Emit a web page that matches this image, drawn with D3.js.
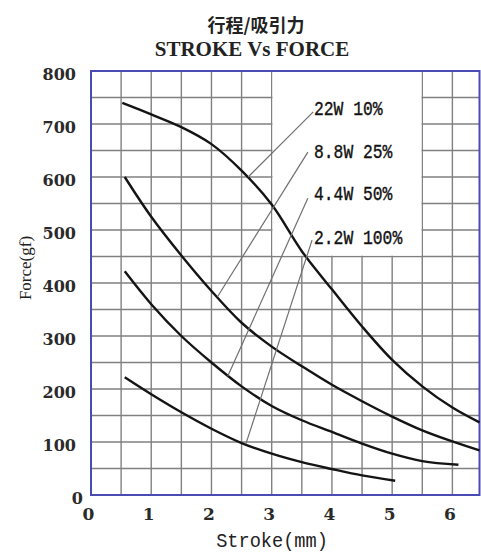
<!DOCTYPE html>
<html>
<head>
<meta charset="utf-8">
<script src="https://cdn.jsdelivr.net/npm/d3@7"></script>
<style>
body { margin: 0; background: #fff; }
svg { display: block; }
</style>
</head>
<body>
<div id="chart"></div>
<script>
// series data (stroke in mm, force in gf)
var stroke22 = [0.52, 1, 1.5, 2, 2.5, 3, 3.5, 4, 4.5, 5, 5.5, 6, 6.45];
var force22  = [740, 718, 694, 662, 612, 548, 460, 388, 318, 255, 205, 165, 137];

var stroke88 = [0.56, 1, 1.5, 2, 2.5, 3, 3.5, 4, 4.5, 5, 5.5, 6, 6.45];
var force88  = [600, 525, 452, 385, 325, 280, 243, 208, 177, 148, 122, 101, 84];

var stroke44 = [0.56, 1, 1.5, 2, 2.5, 3, 3.5, 4, 4.5, 5, 5.5, 6.1];
var force44  = [422, 360, 300, 250, 205, 168, 141, 119, 97, 78, 64, 57];

var stroke22w = [0.56, 1, 1.5, 2, 2.5, 3, 3.5, 4, 4.5, 5.05];
var force22w  = [222, 190, 156, 125, 98, 78, 62, 49, 37, 27];

var labels = ["22W 10%", "8.8W 25%", "4.4W 50%", "2.2W 100%"];
// leader lines: label end -> point on curve
var leadFromX = [3.69, 3.60, 3.60, 3.67];
var leadFromY = [723, 647, 560, 481];
var leadToX = [2.61, 2.10, 2.27, 2.57];
var leadToY = [600, 374, 224, 96];
var labelY = [717, 636, 557, 474];

var xTicks = [0, 1, 2, 3, 4, 5, 6];
var yTicks = [0, 100, 200, 300, 400, 500, 600, 700, 800];

var width = 481, height = 552;
var mLeft = 91, mTop = 71, mRight = 479.5, mBottom = 495;

var svg = d3.select("#chart").append("svg")
  .attr("width", width)
  .attr("height", height);

var x = d3.scaleLinear().domain([0, 6.45]).range([mLeft, mRight]);
var y = d3.scaleLinear().domain([0, 800]).range([mBottom, mTop]);

// grid
var g = svg.append("g");
g.selectAll(".vg").data(d3.range(0.5, 6.45, 0.5)).enter().append("line")
  .attr("x1", function(d) { return x(d); })
  .attr("x2", function(d) { return x(d); })
  .attr("y1", y(0)).attr("y2", y(800))
  .attr("stroke", "#808080").attr("stroke-width", 1.4);
g.selectAll(".hg").data(d3.range(50, 800, 50)).enter().append("line")
  .attr("y1", function(d) { return y(d); })
  .attr("y2", function(d) { return y(d); })
  .attr("x1", x(0)).attr("x2", x(6.45))
  .attr("stroke", "#808080").attr("stroke-width", 1.4);

// blank area for the labels
g.append("rect")
  .attr("x", x(3) + 0.8)
  .attr("y", y(800))
  .attr("width", x(5.5) - x(3) - 1.6)
  .attr("height", y(450) - y(800) - 0.8)
  .attr("fill", "#fff");

// frame
svg.append("rect")
  .attr("x", mLeft).attr("y", mTop)
  .attr("width", mRight - mLeft).attr("height", mBottom - mTop)
  .attr("fill", "none")
  .attr("stroke", "#4a4ab4")
  .attr("stroke-width", 2);

// curves
var line = d3.line()
  .x(function(d) { return x(d[0]); })
  .y(function(d) { return y(d[1]); })
  .curve(d3.curveCatmullRom.alpha(0.5));

var series = [
  d3.zip(stroke22, force22),
  d3.zip(stroke88, force88),
  d3.zip(stroke44, force44),
  d3.zip(stroke22w, force22w)
];

svg.selectAll(".curve").data(series).enter().append("path")
  .attr("d", line)
  .attr("fill", "none")
  .attr("stroke", "#141414")
  .attr("stroke-width", 2.4);

// leader lines
svg.selectAll(".lead").data(labels).enter().append("line")
  .attr("x1", function(d, i) { return x(leadFromX[i]); })
  .attr("y1", function(d, i) { return y(leadFromY[i]); })
  .attr("x2", function(d, i) { return x(leadToX[i]); })
  .attr("y2", function(d, i) { return y(leadToY[i]); })
  .attr("stroke", "#707070")
  .attr("stroke-width", 1.2);

svg.selectAll(".lab").data(labels).enter().append("text")
  .attr("transform", function(d, i) { return "translate(" + 314 + "," + y(labelY[i]) + ") scale(0.86,1.1)"; })
  .attr("font-family", "Liberation Mono")
  .attr("font-size", 19)
  .attr("fill", "#111")
  .attr("stroke", "#111")
  .attr("stroke-width", 0.35)
  .text(function(d) { return d; });

// axes
var yAxis = svg.append("g")
  .attr("transform", "translate(" + mLeft + ",0)")
  .call(d3.axisLeft(y).tickValues(yTicks).tickSize(0).tickPadding(15));
yAxis.select(".domain").remove();
yAxis.selectAll("text")
  .attr("font-family", "DejaVu Serif")
  .attr("font-weight", "bold")
  .attr("font-size", 16)
  .attr("fill", "#2a2a2a")
  .attr("dy", "0.52em")
  .attr("x", function(d) { return d === 0 ? -8 : -15; });

var xAxis = svg.append("g")
  .attr("transform", "translate(0," + mBottom + ")")
  .call(d3.axisBottom(x).tickValues(xTicks).tickFormat(d3.format("d")).tickSize(0));
xAxis.select(".domain").remove();
xAxis.selectAll("text")
  .attr("font-family", "DejaVu Serif")
  .attr("font-weight", "bold")
  .attr("font-size", 17)
  .attr("fill", "#2a2a2a")
  .attr("y", 25)
  .attr("dy", 0)
  .attr("dx", -3);

// titles
svg.append("text")
  .attr("x", 256).attr("y", 32)
  .attr("text-anchor", "middle")
  .attr("font-family", "Noto Sans CJK SC")
  .attr("font-weight", "bold")
  .attr("font-size", 18)
  .attr("fill", "#222")
  .text("行程/吸引力");

svg.append("text")
  .attr("x", 252).attr("y", 56)
  .attr("text-anchor", "middle")
  .attr("font-family", "Liberation Serif")
  .attr("font-weight", "bold")
  .attr("font-size", 21)
  .attr("fill", "#222")
  .text("STROKE Vs FORCE");

svg.append("text")
  .attr("transform", "translate(272,547) scale(0.98,1.1)")
  .attr("text-anchor", "middle")
  .attr("font-family", "Liberation Mono")
  .attr("font-size", 19)
  .attr("fill", "#222")
  .text("Stroke(mm)");

svg.append("text")
  .attr("transform", "translate(31,268) rotate(-90)")
  .attr("text-anchor", "middle")
  .attr("font-family", "Liberation Serif")
  .attr("font-size", 17)
  .attr("fill", "#222")
  .text("Force(gf)");
</script>
</body>
</html>
